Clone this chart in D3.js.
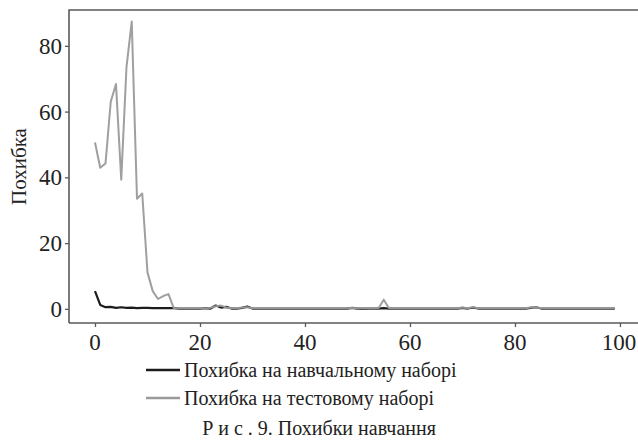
<!DOCTYPE html>
<html>
<head>
<meta charset="utf-8">
<script src="https://cdn.jsdelivr.net/npm/d3@7"></script>
<style>
  html, body { margin: 0; padding: 0; background: #fff; }
  .preload { position: absolute; left: -9999px; top: 0; font-family: "Liberation Serif", serif; font-size: 22px; }
  #chart text { font-family: "Liberation Serif", "Times New Roman", serif; }
</style>
</head>
<body>
<div class="preload">Похибка на навчальному тестовому наборі Р и с . 9 0123456789</div>
<svg id="chart" width="638" height="445"></svg>
<script>
/////////////////////////////////////////////////
/* Data */
/////////////////////////////////////////////////
const epochs = d3.range(0, 100);

// loss on the training set
const trainLoss = [
  5.4, 1.2, 0.5, 0.6, 0.3, 0.5, 0.3, 0.4, 0.2, 0.3,
  0.3, 0.2, 0.2, 0.2, 0.2, 0.2, 0.1, 0.1, 0.1, 0.1,
  0.1, 0.2, 0.1, 1.0, 0.4, 0.6, 0.1, 0.1, 0.3, 0.7,
  0.1, 0.1, 0.1, 0.1, 0.1, 0.1, 0.1, 0.1, 0.1, 0.1,
  0.1, 0.1, 0.1, 0.1, 0.1, 0.1, 0.1, 0.1, 0.1, 0.3,
  0.1, 0.1, 0.1, 0.1, 0.1, 0.2, 0.1, 0.1, 0.1, 0.1,
  0.1, 0.1, 0.1, 0.1, 0.1, 0.1, 0.1, 0.1, 0.1, 0.1,
  0.3, 0.1, 0.4, 0.1, 0.1, 0.1, 0.1, 0.1, 0.1, 0.1,
  0.1, 0.1, 0.1, 0.3, 0.5, 0.1, 0.1, 0.1, 0.1, 0.1,
  0.1, 0.1, 0.1, 0.1, 0.1, 0.1, 0.1, 0.1, 0.1, 0.1
];

// loss on the test set
const testLoss = [
  50.6, 42.9, 44.2, 63.0, 68.4, 39.3, 73.5, 87.4, 33.5, 35.1,
  11.1, 5.4, 3.0, 3.9, 4.5, 0.2, 0.2, 0.2, 0.2, 0.2,
  0.2, 0.2, 0.3, 0.8, 1.0, 0.4, 0.2, 0.2, 0.4, 0.5,
  0.2, 0.2, 0.2, 0.2, 0.2, 0.2, 0.2, 0.2, 0.2, 0.2,
  0.2, 0.2, 0.2, 0.2, 0.2, 0.2, 0.2, 0.2, 0.2, 0.3,
  0.2, 0.3, 0.2, 0.2, 0.2, 2.8, 0.2, 0.2, 0.2, 0.2,
  0.2, 0.2, 0.2, 0.2, 0.2, 0.2, 0.2, 0.2, 0.2, 0.2,
  0.4, 0.2, 0.5, 0.2, 0.2, 0.2, 0.2, 0.2, 0.2, 0.2,
  0.2, 0.2, 0.2, 0.4, 0.5, 0.2, 0.2, 0.2, 0.2, 0.2,
  0.2, 0.2, 0.2, 0.2, 0.2, 0.2, 0.2, 0.2, 0.2, 0.2
];

const xTicks = [0, 20, 40, 60, 80, 100];
const yTicks = [0, 20, 40, 60, 80];
const seriesNames = ["Похибка на навчальному наборі", "Похибка на тестовому наборі"];
const yTitle = "Похибка";
const caption = "Р и с . 9. Похибки навчання";

/////////////////////////////////////////////////
/* Scales */
/////////////////////////////////////////////////
const panel = {left: 69, top: 10, bottom: 323};
const svg = d3.select("#chart");

const x = d3.scaleLinear().domain([-4.95, 103.95]).range([panel.left, 640.7]);
const y = d3.scaleLinear().domain([-4.3, 90.9]).range([panel.bottom, panel.top]);

const series = [
  {name: seriesNames[0], values: trainLoss, color: "#1c1c1c"},
  {name: seriesNames[1], values: testLoss, color: "#9a9a9a"}
];

// serif text with x/y, baseline given directly
function label(g, tx, ty, txt, size, anchor) {
  return g.append("text")
    .attr("x", tx)
    .attr("y", ty)
    .attr("text-anchor", anchor || "start")
    .attr("font-family", "Liberation Serif")
    .attr("font-size", size)
    .attr("fill", "#222")
    .text(txt);
}

const line = d3.line().x((d, i) => x(epochs[i])).y(d => y(d));

svg.append("path")
  .datum(trainLoss)
  .attr("d", line)
  .attr("fill", "none")
  .attr("stroke", series[0].color)
  .attr("stroke-width", 2.2)
  .attr("stroke-linejoin", "round");

svg.append("path")
  .datum(testLoss)
  .attr("d", line)
  .attr("fill", "none")
  .attr("stroke", series[1].color)
  .attr("stroke-width", 2)
  .attr("stroke-linejoin", "round")
  .attr("opacity", 0.95);

/////////////////////////////////////////////////
/* Axes and frame */
/////////////////////////////////////////////////
const frameColor = "#5a5a5a";

svg.append("path")
  .attr("d", `M${panel.left},${panel.bottom} V${panel.top} H640 M${panel.left},${panel.bottom} H640`)
  .attr("fill", "none")
  .attr("stroke", frameColor)
  .attr("stroke-width", 1.6);

const xAxis = svg.append("g")
  .attr("transform", `translate(0,${panel.bottom})`)
  .call(d3.axisBottom(x).tickValues(xTicks).tickSize(4).tickFormat(""));

const yAxis = svg.append("g")
  .attr("transform", `translate(${panel.left},0)`)
  .call(d3.axisLeft(y).tickValues(yTicks).tickSize(4).tickFormat(""));

[xAxis, yAxis].forEach(a => {
  a.select(".domain").remove();
  a.selectAll(".tick line").attr("stroke", frameColor).attr("stroke-width", 1.3);
});

// tick labels placed with the same scales
xTicks.forEach(t => label(svg, Math.min(x(t), 619), panel.bottom + 27, t, 23, "middle"));
yTicks.forEach(t => label(svg, panel.left - 7, y(t) + 8, t, 23, "end"));

// y axis title
const titleG = svg.append("g")
  .attr("transform", `translate(26,${(panel.top + panel.bottom) / 2}) rotate(-90)`);
label(titleG, 0, 0, yTitle, 21, "middle");

/////////////////////////////////////////////////
/* Legend and caption */
/////////////////////////////////////////////////
const legend = svg.append("g");
series.forEach((s, i) => {
  const ly = 370 + i * 28;
  legend.append("line")
    .attr("x1", 146).attr("x2", 180)
    .attr("y1", ly).attr("y2", ly)
    .attr("stroke", s.color)
    .attr("stroke-width", 2.6);
  label(legend, 184, ly + 7, s.name, 20);
});

label(svg, 319, 435, caption, 20, "middle");
</script>
</body>
</html>
